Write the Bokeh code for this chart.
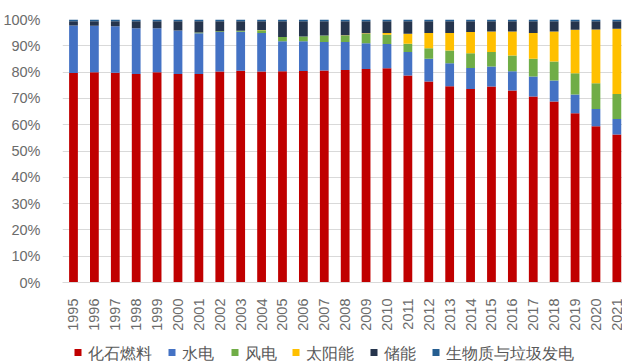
from bokeh.plotting import figure
from bokeh.layouts import column
from bokeh.models import ColumnDataSource, FixedTicker
from bokeh.embed import file_html
from bokeh.resources import INLINE

# Share of generation by source, percent of total
years = list(range(1995, 2022))
fossil  = [79.7, 79.9, 79.8, 79.3, 79.9, 79.3, 79.3, 80.2, 80.5, 80.2, 80.3, 80.4, 80.6, 80.8,
           81.2, 81.5, 78.7, 76.4, 74.6, 73.6, 74.5, 73.0, 70.7, 68.8, 64.4, 59.4, 56.3]
hydro   = [18.0, 17.7, 17.6, 17.4, 16.8, 16.5, 15.5, 15.0, 14.8, 14.7, 11.4, 11.3, 10.8, 10.6,
           9.8, 9.2, 8.9, 8.7, 8.8, 8.0, 7.6, 7.3, 7.6, 8.0, 7.1, 6.6, 5.9]
wind    = [0.0, 0.0, 0.0, 0.0, 0.0, 0.0, 0.3, 0.3, 0.4, 1.0, 1.6, 1.8, 2.5, 2.5,
           3.6, 3.5, 3.2, 4.0, 4.8, 5.6, 5.5, 6.0, 6.8, 7.2, 8.1, 9.8, 9.5]
solar   = [0.0, 0.0, 0.0, 0.0, 0.0, 0.0, 0.0, 0.0, 0.0, 0.1, 0.0, 0.0, 0.0, 0.1,
           0.2, 0.7, 3.8, 5.8, 6.7, 8.0, 7.8, 9.1, 9.8, 11.4, 16.5, 20.4, 24.8]
storage = [1.6, 1.7, 1.9, 2.6, 2.6, 3.5, 4.2, 3.8, 3.6, 3.3, 6.0, 5.8, 5.4, 5.3,
           4.5, 4.4, 4.7, 4.4, 4.4, 4.1, 3.9, 3.9, 4.4, 3.9, 3.2, 3.1, 2.8]
biomass = [0.7] * 27

labels = ["化石燃料", "水电", "风电", "太阳能", "储能", "生物质与垃圾发电"]
keys = ["fossil", "hydro", "wind", "solar", "storage", "biomass"]
colors = ["#C00000", "#4472C4", "#70AD47", "#FFC000", "#26354D", "#255E91"]

source = ColumnDataSource(dict(year=years, fossil=fossil, hydro=hydro, wind=wind,
                               solar=solar, storage=storage, biomass=biomass))

# main stacked-bar chart
p = figure(width=622, height=340, frame_width=560, frame_height=263,
           output_backend="svg", toolbar_location=None,
           x_range=(1994.474, 2021.27), y_range=(0, 100),
           min_border_left=62, min_border_right=0, min_border_top=19, min_border_bottom=58)
p.outline_line_color = None
p.background_fill_color = "white"

p.vbar_stack(keys, x="year", width=0.42, color=colors, line_color=None, source=source)

label_font = "Liberation Sans"
tick_color = "#6b6b6b"

# y axis: 0%..100%
p.yaxis.ticker = FixedTicker(ticks=list(range(0, 101, 10)))
p.yaxis.major_label_overrides = {v: f"{v}%" for v in range(0, 101, 10)}
p.yaxis.axis_line_color = None
p.yaxis.major_tick_line_color = None
p.yaxis.minor_tick_line_color = None
p.yaxis.major_label_standoff = 16
p.yaxis.major_label_text_font = label_font
p.yaxis.major_label_text_font_size = "14.5px"
p.yaxis.major_label_text_color = tick_color

# x axis: vertical year labels
p.xaxis.ticker = FixedTicker(ticks=years)
p.xaxis.major_label_overrides = {y: str(y) for y in years}
p.xaxis.major_label_orientation = 1.5707963
p.xaxis.axis_line_color = "#d9d9d9"
p.xaxis.major_tick_line_color = None
p.xaxis.minor_tick_line_color = None
p.xaxis.major_label_standoff = 10
p.xaxis.major_label_text_font = label_font
p.xaxis.major_label_text_font_size = "14.5px"
p.xaxis.major_label_text_color = tick_color

p.xgrid.grid_line_color = None
p.ygrid.grid_line_color = "#d9d9d9"
p.ygrid.grid_line_width = 1

# legend strip under the chart; its frame lines up with the chart frame (x 62..622),
# so the ranges are set in page pixels
leg = figure(width=622, height=21, output_backend="svg", toolbar_location=None,
             x_range=(62, 622), y_range=(0, 21), x_axis_type=None, y_axis_type=None,
             min_border=0)
leg.outline_line_color = None
leg.xgrid.grid_line_color = None
leg.ygrid.grid_line_color = None

swatch_left = [74, 168, 231, 292, 370, 432]
leg.rect(x=[s + 3.5 for s in swatch_left], y=[9] * 6, width=7, height=7,
         fill_color=colors, line_color=None)
leg.text(x=[s + 13 for s in swatch_left], y=[8] * 6, text=labels,
         text_font="Noto Sans CJK SC", text_font_size="16px", text_color="#595959",
         text_baseline="middle", text_align="left")

open("out.html", "w").write(file_html(column(p, leg, spacing=0), INLINE))
